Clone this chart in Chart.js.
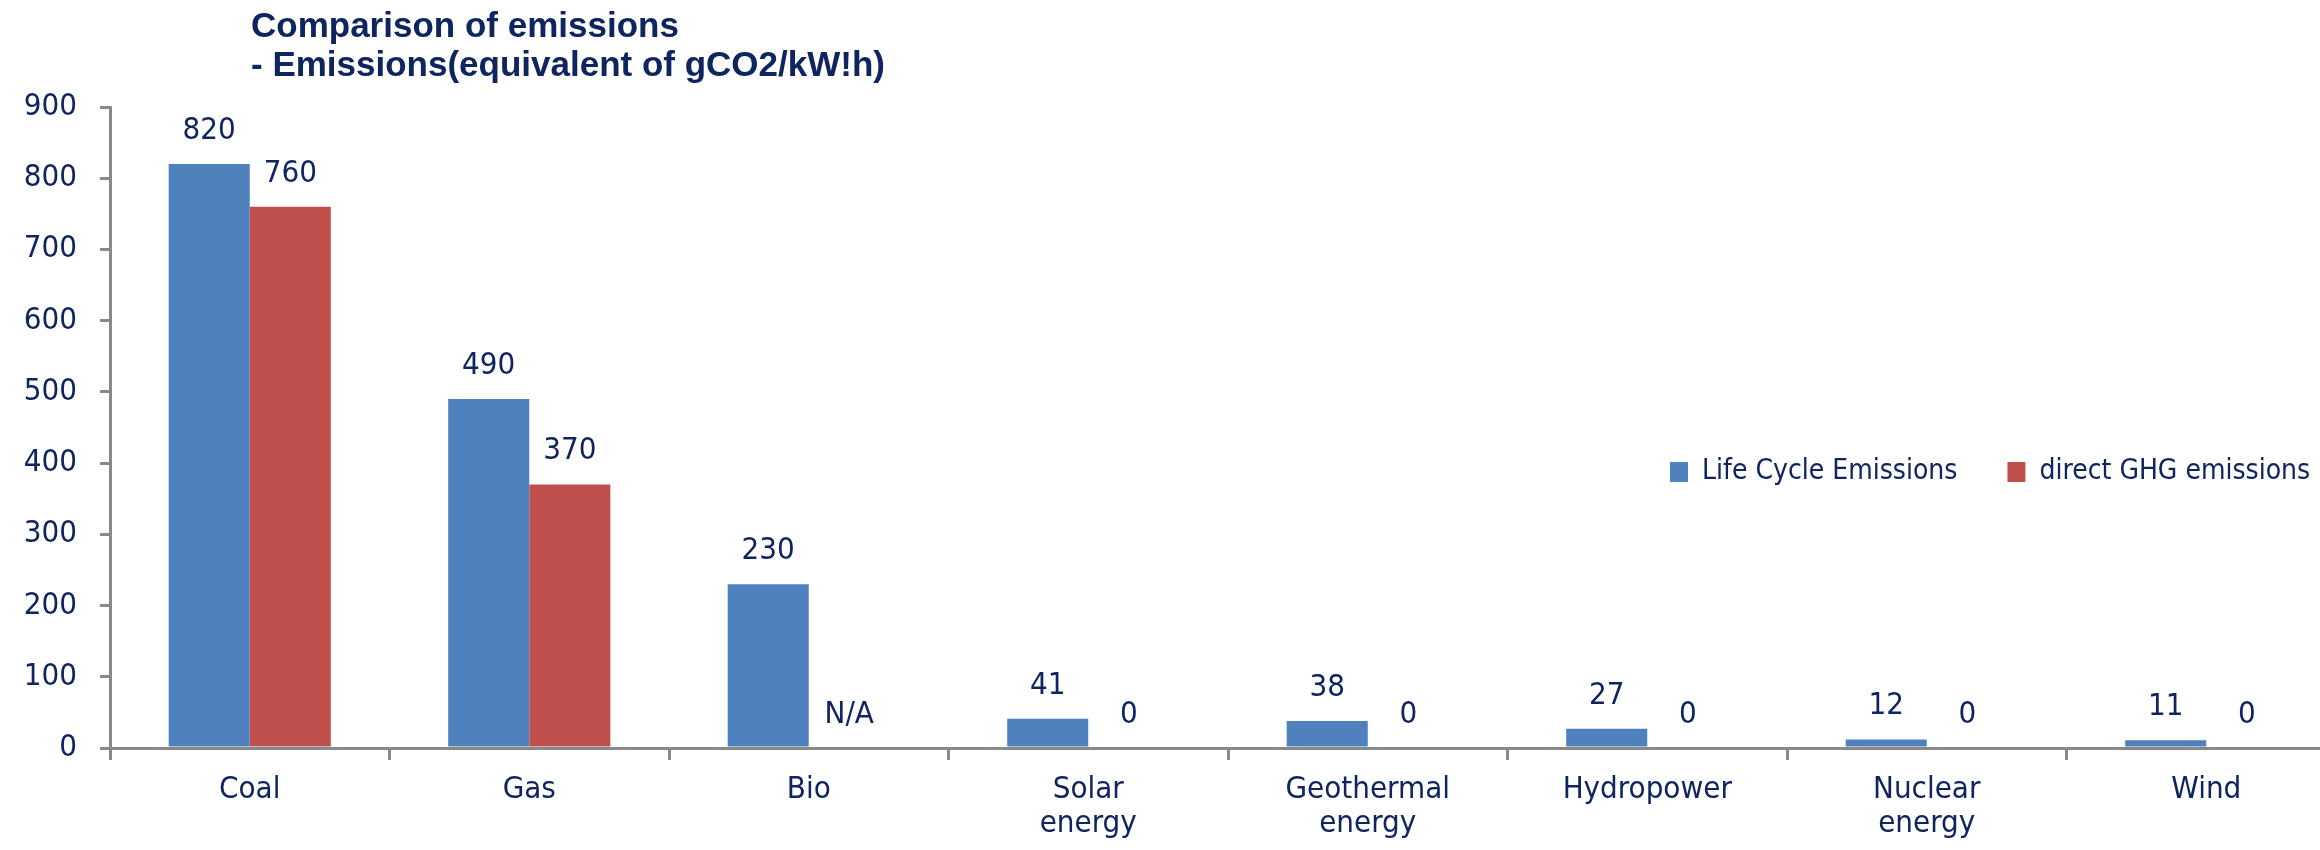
<!DOCTYPE html>
<html>
<head>
<meta charset="utf-8">
<script src="https://cdn.jsdelivr.net/npm/chart.js@4.4.1/dist/chart.umd.min.js"></script>
<style>
  html, body { margin: 0; padding: 0; background: #ffffff; overflow: hidden; }
  #wrap { position: relative; width: 2350px; height: 850px; }
</style>
</head>
<body>
<div id="wrap"><canvas id="c"></canvas></div>
<script>
// ---- data ----
const categories = ['Coal', 'Gas', 'Bio', ['Solar', 'energy'], ['Geothermal', 'energy'], 'Hydropower', ['Nuclear', 'energy'], 'Wind'];
const lifeCycleEmissions = [820, 490, 230, 41, 38, 27, 12, 11];
const directGhgEmissions = [760, 370, null, 0, 0, 0, 0, 0];
const seriesNames = ['Life Cycle Emissions', 'direct GHG emissions'];
const titleLines = ['Comparison of emissions', '- Emissions(equivalent of gCO2/kW!h)'];
const yTickMin = 0, yTickMax = 900, yTickStep = 100;

// ---- styles ----
const NAVY = '#0E2560';
const AXIS = '#898989';
const FONT = "'Liberation Sans Narrow', 'DejaVu Sans Condensed', 'Liberation Sans', sans-serif";

const valueLabels = {
  id: 'valueLabels',
  afterDatasetsDraw(chart) {
    const ctx = chart.ctx;
    const yScale = chart.scales.y;
    ctx.save();
    ctx.font = '31px ' + FONT;
    ctx.fillStyle = NAVY;
    ctx.textAlign = 'center';
    ctx.textBaseline = 'alphabetic';
    chart.data.datasets.forEach((ds, di) => {
      const meta = chart.getDatasetMeta(di);
      meta.data.forEach((el, i) => {
        const v = ds.data[i];
        const missing = (v === null || v === undefined);
        const top = missing ? yScale.getPixelForValue(0) : el.y;
        const txt = missing ? 'N/A' : String(v);
        ctx.fillText(txt, el.x, top - 25);
      });
    });
    ctx.restore();
  }
};

const placeBlocks = {
  id: 'placeBlocks',
  beforeUpdate(chart) {
    const lg = chart.legend;
    if (lg && !lg.__patched) {
      const origFit = lg.fit;
      lg.fit = function () {
        origFit.call(this);
        this.__h = this.height;
        this.height = 0;
      };
      lg.__patched = true;
    }
  },
  afterLayout(chart) {
    const lg = chart.legend;
    if (lg) {
      const pad = lg.options.labels.padding;
      lg.left = 1670 - pad;
      lg.right = 2400;
      lg.width = lg.right - lg.left;
      lg.top = 458 - pad;
      lg.height = lg.__h || 40;
      lg.bottom = lg.top + lg.height;
    }
    if (chart.titleBlock) {
      chart.titleBlock.left = 251;
    }
  }
};

new Chart(document.getElementById('c'), {
  type: 'bar',
  data: {
    labels: categories,
    datasets: [
      { label: seriesNames[0], data: lifeCycleEmissions, backgroundColor: '#4F81BD', borderWidth: 0 },
      { label: seriesNames[1], data: directGhgEmissions, backgroundColor: '#C0504D', borderWidth: 0 }
    ]
  },
  options: {
    responsive: true,
    maintainAspectRatio: false,
    animation: false,
    devicePixelRatio: 1,
    layout: { padding: { left: 0, right: 4, top: 0, bottom: 0 } },
    datasets: { bar: { categoryPercentage: 0.58, barPercentage: 1.0 } },
    plugins: {
      tooltip: { enabled: false },
      title: {
        display: true,
        text: titleLines,
        align: 'start',
        color: NAVY,
        font: { family: "'Liberation Sans', Arial, sans-serif", size: 35, weight: 'bold', lineHeight: 39 / 35 },
        padding: { top: 8, bottom: 21 }
      },
      legend: {
        display: true,
        position: 'top',
        align: 'start',
        labels: {
          color: NAVY,
          font: { family: FONT, size: 28 },
          boxWidth: 18,
          boxHeight: 20,
          padding: 50
        }
      }
    },
    scales: {
      x: {
        afterFit(s) { s.height = 102; },
        border: { color: AXIS, width: 3 },
        grid: { display: true, drawOnChartArea: false, drawTicks: true, tickLength: 12, color: AXIS, lineWidth: 3, offset: true },
        ticks: { color: NAVY, font: { family: FONT, size: 31, lineHeight: 34 / 31 }, padding: 13, maxRotation: 0, autoSkip: false }
      },
      y: {
        min: yTickMin,
        max: yTickMax,
        afterFit(s) { s.width = 110; },
        border: { color: AXIS, width: 3 },
        grid: { display: true, drawOnChartArea: false, drawTicks: true, tickLength: 10, color: AXIS, lineWidth: 3 },
        ticks: { stepSize: yTickStep, color: NAVY, font: { family: FONT, size: 31 }, padding: 23 }
      }
    }
  },
  plugins: [valueLabels, placeBlocks]
});
</script>
</body>
</html>
